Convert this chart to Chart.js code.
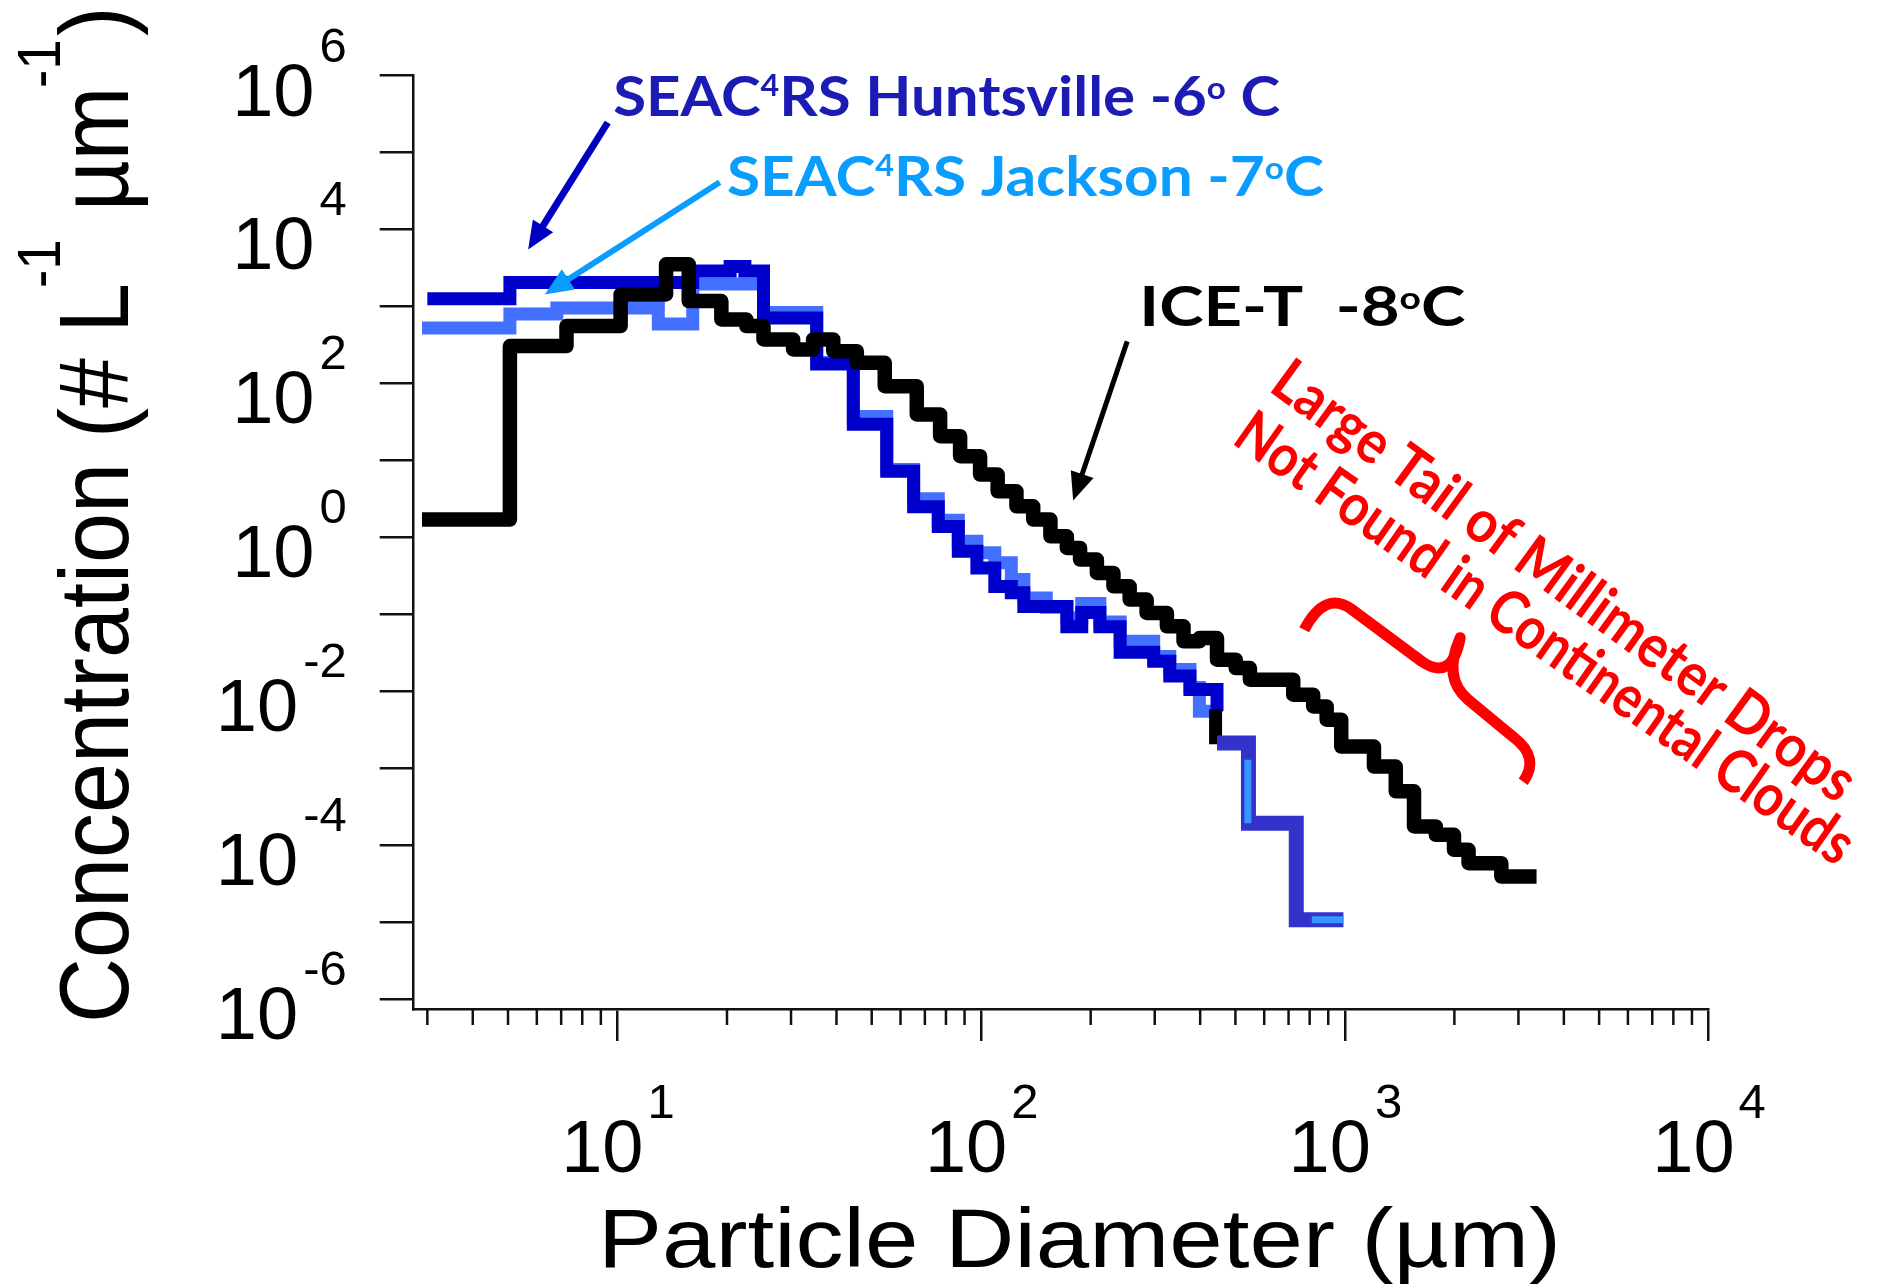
<!DOCTYPE html>
<html><head><meta charset="utf-8">
<script src="https://cdn.jsdelivr.net/npm/chart.js@4.4.1/dist/chart.umd.min.js"></script>
<style>html,body{margin:0;padding:0;background:#fff;}canvas{display:block;}</style>
</head><body>
<canvas id="c" width="1880" height="1288"></canvas>
<script>
// ---------------- DATA (diameter in µm, concentration in # L^-1 µm^-1) ----------------
const huntsvilleEdges = [3.0,5.06,16.1,20.4,22.4,25.2,35.3,44.5,55.0,65.2,76.2,86.5,97.3,109,121,131,172,189,212,241,298,330,375,445];
const huntsvilleConc  = [1260,2040,2880,3310,2880,708,178,29.5,7.2,2.5,1.38,0.66,0.40,0.23,0.19,0.126,0.069,0.105,0.069,0.032,0.0245,0.0158,0.0105];
const huntsvilleEndDrop = 0.0055;

const jacksonEdges = [2.9,5.06,6.81,12.95,16.1,25.2,35.3,44.5,55.0,65.2,76.2,86.5,97.3,109,121,131,151,172,189,212,241,298,330,375,398,430];
const jacksonConc  = [525,794,955,589,1950,832,186,37.2,7.59,3.16,1.66,0.891,0.631,0.468,0.282,0.162,0.123,0.0891,0.138,0.0794,0.0447,0.0282,0.0191,0.0112,0.0055];

const tailEdges = [445,543,735,991];
const huntsvilleTailConc = [0.00212,0.000193,0.0000107];
const jacksonTailX    = [541,541,null,811,991];
const jacksonTailConc = [0.00129,0.000193,null,0.0000107,0.0000107];
const joinX    = [441,441];
const joinConc = [0.0058,0.00205];

const iceEdges = [2.90,5.06,7.24,10.2,13.6,15.7,19.3,22.6,25.2,30.4,34.5,39.2,45.5,54.3,66.5,77.1,87.5,99.3,111,125,139,155,172,187,208,231,256,285,324,360,398,445,501,548,721,818,891,977,1202,1380,1549,1778,1995,2188,2692,3365];
const iceConc  = [1.70,305,555,1432,3516,1172,678,555,372,276,372,262,185,92.0,39.4,20.6,11.3,6.53,3.96,2.53,1.70,1.03,0.728,0.513,0.344,0.231,0.155,0.104,0.0697,0.0445,0.0490,0.0257,0.0200,0.0141,0.00902,0.00635,0.00426,0.00191,0.00105,0.000501,0.000175,0.000136,0.0000869,0.0000583,0.0000391];

// ticks
const xMajorTicks = [10,100,1000,10000];
const xTickExponents = ['1','2','3','4'];
const yMajorTicks = [1e-6,1e-5,1e-4,1e-3,1e-2,1e-1,1,10,100,1e3,1e4,1e5,1e6];
const yLabelTicks = [1e6,1e4,1e2,1,1e-2,1e-4,1e-6];
const yTickExponents = ['6','4','2','0','-2','-4','-6'];

// annotation anchors (data coordinates: [diameter, concentration])
const arrowNotes = [
  {from:[9.40,2.45e5], to:[5.68,5480], color:'#0000c0', width:7},
  {from:[19.1,40900],  to:[6.31,1432], color:'#0a9cff', width:6},
  {from:[252,351],     to:[179,3.0],   color:'#000000', width:5}
];
const labelAnchors = {huntsville:[9.73,2.96e5], jackson:[20.0,26900], ice:[272,562], red1:[612,82], red2:[485,17], brace:[2075,0.0495]};

// ---------------- helpers ----------------
function steps(edges, vals){
  const pts=[];
  for(let i=0;i<vals.length;i++){ pts.push({x:edges[i],y:vals[i]}); pts.push({x:edges[i+1],y:vals[i]}); }
  return pts;
}
function zipPts(xs, ys){ return xs.map((x,i)=>({x:x===null?NaN:x, y:ys[i]})); }

const AXF = '"Liberation Sans", Arial, sans-serif';
const NOTEF = 'Lato, "Open Sans", sans-serif';

function drawRich(ctx, parts, x, y, angle, targetW, color, weight){
  ctx.save();
  const ws=[]; let total=0;
  parts.forEach(p=>{ ctx.font=`${weight} ${p.size}px ${NOTEF}`; const w=ctx.measureText(p.t).width; ws.push(w); total+=w; });
  const sx = targetW ? targetW/total : 1;
  ctx.translate(x,y); ctx.rotate(angle); ctx.scale(sx,1);
  ctx.fillStyle=color; ctx.textAlign='left'; ctx.textBaseline='alphabetic';
  let cx=0;
  parts.forEach((p,i)=>{ ctx.font=`${weight} ${p.size}px ${NOTEF}`; ctx.fillText(p.t, cx, p.dy||0); cx+=ws[i]; });
  ctx.restore();
}

const decor = {
  id:'decor',
  afterDraw(chart){
    const ctx=chart.ctx, xs=chart.scales.x, ys=chart.scales.y, a=chart.chartArea;
    const P=(d,c)=>[xs.getPixelForValue(d), ys.getPixelForValue(c)];
    ctx.save();
    // minor x ticks
    ctx.strokeStyle='#111'; ctx.lineWidth=2.5;
    for(let k=0;k<4;k++) for(let m=2;m<=9;m++){
      const v=m*Math.pow(10,k); if(v<xs.min||v>xs.max) continue;
      const px=xs.getPixelForValue(v);
      ctx.beginPath(); ctx.moveTo(px,a.bottom); ctx.lineTo(px,a.bottom+16); ctx.stroke();
    }
    // y tick labels
    ctx.fillStyle='#000'; ctx.textBaseline='alphabetic';
    const yr = a.left-67;
    yLabelTicks.forEach((v,i)=>{
      const py=ys.getPixelForValue(v);
      ctx.font=`49px ${AXF}`; const we=ctx.measureText(yTickExponents[i]).width;
      ctx.textAlign='right'; ctx.fillText(yTickExponents[i], yr, py-14);
      ctx.font=`74px ${AXF}`; ctx.fillText('10', yr-we-5, py+40);
    });
    // x tick labels
    xMajorTicks.forEach((v,i)=>{
      const px=xs.getPixelForValue(v);
      ctx.font=`74px ${AXF}`; ctx.textAlign='right'; ctx.fillText('10', px+26, a.bottom+163);
      ctx.font=`49px ${AXF}`; ctx.textAlign='left'; ctx.fillText(xTickExponents[i], px+30, a.bottom+109);
    });
    // x title
    ctx.save();
    ctx.font=`84px ${AXF}`; const xt='Particle Diameter (µm)'; const xw=ctx.measureText(xt).width;
    ctx.translate(598, a.bottom+258); ctx.scale(963/xw,1); ctx.textAlign='left'; ctx.fillText(xt,0,0);
    ctx.restore();
    // y title (rotated)
    ctx.save();
    ctx.translate(a.left-286, a.bottom+10); ctx.rotate(-Math.PI/2);
    const piece=(t,s,size,dy,w)=>{ ctx.save(); ctx.font=`${size}px ${AXF}`; const mw=ctx.measureText(t).width; ctx.translate(s,dy); ctx.scale(w?w/mw:0.9,1); ctx.textAlign='left'; ctx.fillText(t,0,0); ctx.restore(); };
    piece('Concentration (# L',-4,98,0,740);
    piece('-1',731,61,-68);
    piece('µm',808,98,0);
    piece('-1',931,61,-68);
    piece(')',983,98,0);
    ctx.restore();

    // arrows
    arrowNotes.forEach(n=>{
      const [x1,y1]=P(...n.from), [x2,y2]=P(...n.to);
      const ang=Math.atan2(y2-y1,x2-x1), hl=28, hw=12;
      const bx=x2-hl*Math.cos(ang), by=y2-hl*Math.sin(ang);
      ctx.strokeStyle=n.color; ctx.fillStyle=n.color; ctx.lineWidth=n.width; ctx.lineCap='butt';
      ctx.beginPath(); ctx.moveTo(x1,y1); ctx.lineTo(bx+4*Math.cos(ang),by+4*Math.sin(ang)); ctx.stroke();
      ctx.beginPath(); ctx.moveTo(x2,y2);
      ctx.lineTo(bx+hw*Math.sin(ang), by-hw*Math.cos(ang));
      ctx.lineTo(bx-hw*Math.sin(ang), by+hw*Math.cos(ang)); ctx.closePath(); ctx.fill();
    });
    // labels
    let p=P(...labelAnchors.huntsville);
    drawRich(ctx,[{t:'SEAC',size:56},{t:'4',size:30,dy:-20},{t:'RS Huntsville -6',size:56},{t:'o',size:31,dy:-17},{t:' C',size:56}],p[0],p[1],0,667,'#1c1cb4','bold');
    p=P(...labelAnchors.jackson);
    drawRich(ctx,[{t:'SEAC',size:56},{t:'4',size:30,dy:-20},{t:'RS Jackson -7',size:56},{t:'o',size:31,dy:-17},{t:'C',size:56}],p[0],p[1],0,597,'#0a9cff','bold');
    p=P(...labelAnchors.ice);
    drawRich(ctx,[{t:'ICE-T  -8',size:56},{t:'o',size:31,dy:-17},{t:'C',size:56}],p[0],p[1],0,326,'#000000','bold');
    p=P(...labelAnchors.red1);
    drawRich(ctx,[{t:'Large Tail of Millimeter Drops',size:60}],p[0],p[1],36*Math.PI/180,705,'#ff0000','bold');
    p=P(...labelAnchors.red2);
    drawRich(ctx,[{t:'Not Found in Continental Clouds',size:60}],p[0],p[1],35*Math.PI/180,740,'#ff0000','bold');
    // brace
    const b=P(...labelAnchors.brace);
    ctx.strokeStyle='#ff0000'; ctx.lineWidth=11; ctx.lineJoin='round'; ctx.lineCap='butt';
    ctx.beginPath();
    ctx.moveTo(b[0]-156,b[1]-8);
    ctx.quadraticCurveTo(b[0]-135,b[1]-48,b[0]-108,b[1]-28);
    ctx.lineTo(b[0]-38,b[1]+24);
    ctx.quadraticCurveTo(b[0]-8,b[1]+44,b[0],b[1]);
    ctx.quadraticCurveTo(b[0]-18,b[1]+40,b[0]+8,b[1]+62);
    ctx.lineTo(b[0]+54,b[1]+100);
    ctx.quadraticCurveTo(b[0]+80,b[1]+120,b[0]+63,b[1]+144);
    ctx.stroke();
    ctx.restore();
  }
};

const lineDs=(label,data,color,w,join,cap)=>({label,data,showLine:true,borderColor:color,backgroundColor:color,borderWidth:w,pointRadius:0,tension:0,borderJoinStyle:join||'miter',borderCapStyle:cap||'butt',spanGaps:false,fill:false});

const huntsvillePts = steps(huntsvilleEdges,huntsvilleConc);
huntsvillePts.push({x:huntsvilleEdges[huntsvilleEdges.length-1], y:huntsvilleEndDrop});

new Chart(document.getElementById('c'),{
  type:'scatter',
  data:{datasets:[
    lineDs('Jackson tail', zipPts(jacksonTailX,jacksonTailConc), '#3399ff', 7),
    lineDs('Huntsville tail', steps(tailEdges,huntsvilleTailConc), '#3333cc', 15),
    lineDs('join', zipPts(joinX,joinConc), '#000000', 13),
    lineDs('ICE-T -8°C', steps(iceEdges,iceConc), '#000000', 14.5, 'round', 'butt'),
    lineDs('SEAC4RS Huntsville -6°C', huntsvillePts, '#0000cc', 13),
    lineDs('SEAC4RS Jackson -7°C', steps(jacksonEdges,jacksonConc), '#4470ff', 13)
  ]},
  options:{
    responsive:false, animation:false, devicePixelRatio:1,
    layout:{padding:{left:0,top:75.5,right:171.4,bottom:0}},
    plugins:{legend:{display:false},tooltip:{enabled:false}},
    scales:{
      x:{type:'logarithmic',min:2.752,max:10000,bounds:'data',position:'bottom',
        afterBuildTicks(s){ s.ticks=xMajorTicks.map(v=>({value:v,major:true})); },
        afterFit(s){ s.height=279; },
        ticks:{display:false,autoSkip:false},
        grid:{display:true,drawOnChartArea:false,drawTicks:true,tickLength:32,color:'#111',lineWidth:2.5,tickWidth:2.5,tickColor:'#111'},
        border:{display:true,color:'#111',width:2.5}},
      y:{type:'logarithmic',min:7.43e-7,max:1e6,bounds:'data',position:'left',
        afterBuildTicks(s){ s.ticks=yMajorTicks.map(v=>({value:v,major:true})); },
        afterFit(s){ s.width=413.7; },
        ticks:{display:false,autoSkip:false},
        grid:{display:true,drawOnChartArea:false,drawTicks:true,tickLength:34,color:'#111',lineWidth:2.5,tickWidth:2.5,tickColor:'#111'},
        border:{display:true,color:'#111',width:2.5}}
    }
  },
  plugins:[decor]
});
</script>
</body></html>
